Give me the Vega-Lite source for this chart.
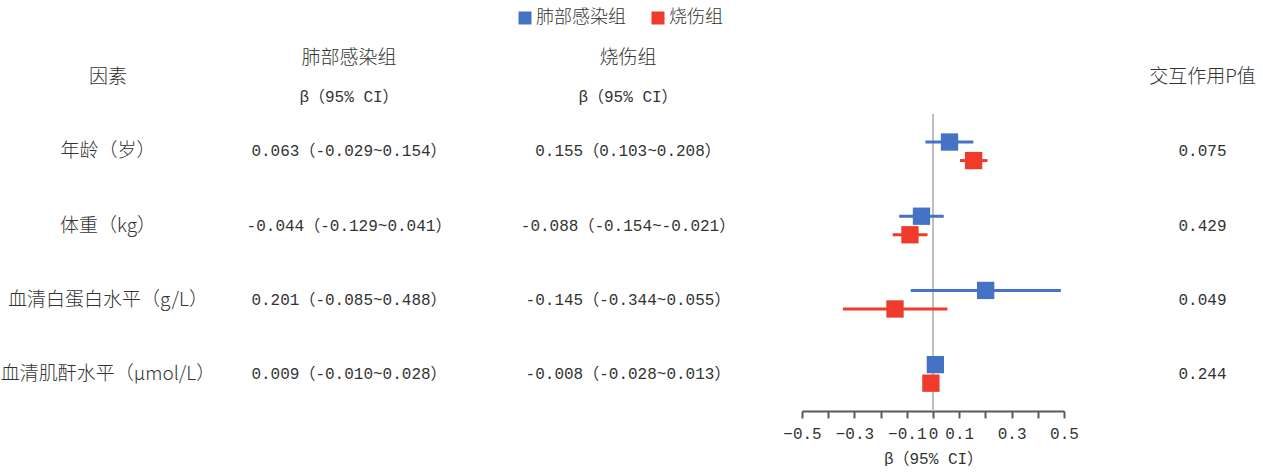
{
  "$schema": "https://vega.github.io/schema/vega-lite/v6.json",
  "padding": {"left": 0, "top": 9, "right": 0, "bottom": 0},
  "bounds": "flush",
  "spacing": 0,
  "config": {
    "view": {"stroke": null},
    "font": "Noto Sans CJK SC",
    "text": {"color": "#333333"},
    "axis": {"labelOverlap": false, "labelFlush": false}
  },
  "datasets": {
    "table": [
      {"factor": "因素", "lung": "肺部感染组", "lung2": "β（95% CI）", "burn": "烧伤组", "burn2": "β（95% CI）", "p": "交互作用P值"},
      {"factor": "年龄（岁）", "lung": "0.063（-0.029~0.154）", "burn": "0.155（0.103~0.208）", "p": "0.075"},
      {"factor": "体重（kg）", "lung": "-0.044（-0.129~0.041）", "burn": "-0.088（-0.154~-0.021）", "p": "0.429"},
      {"factor": "血清白蛋白水平（g/L）", "lung": "0.201（-0.085~0.488）", "burn": "-0.145（-0.344~0.055）", "p": "0.049"},
      {"factor": "血清肌酐水平（μmol/L）", "lung": "0.009（-0.010~0.028）", "burn": "-0.008（-0.028~0.013）", "p": "0.244"}
    ],
    "forest": [
      {"factor": "年龄（岁）", "group": "肺部感染组", "beta": 0.063, "lo": -0.029, "hi": 0.154},
      {"factor": "年龄（岁）", "group": "烧伤组", "beta": 0.155, "lo": 0.103, "hi": 0.208},
      {"factor": "体重（kg）", "group": "肺部感染组", "beta": -0.044, "lo": -0.129, "hi": 0.041},
      {"factor": "体重（kg）", "group": "烧伤组", "beta": -0.088, "lo": -0.154, "hi": -0.021},
      {"factor": "血清白蛋白水平（g/L）", "group": "肺部感染组", "beta": 0.201, "lo": -0.085, "hi": 0.488},
      {"factor": "血清白蛋白水平（g/L）", "group": "烧伤组", "beta": -0.145, "lo": -0.344, "hi": 0.055},
      {"factor": "血清肌酐水平（μmol/L）", "group": "肺部感染组", "beta": 0.009, "lo": -0.010, "hi": 0.028},
      {"factor": "血清肌酐水平（μmol/L）", "group": "烧伤组", "beta": -0.008, "lo": -0.028, "hi": 0.013}
    ]
  },
  "hconcat": [
    {
      "width": 212, "height": 371,
      "data": {"name": "table"},
      "mark": {"type": "text", "fontSize": 19, "fontWeight": 300, "baseline": "middle", "color": "#333333", "font": "Noto Sans CJK SC"},
      "encoding": {
        "y": {"field": "factor", "type": "nominal", "sort": null, "axis": null,
              "scale": {"type": "band", "domain": ["因素", "年龄（岁）", "体重（kg）", "血清白蛋白水平（g/L）", "血清肌酐水平（μmol/L）"], "paddingInner": 0, "paddingOuter": 0}},
        "text": {"field": "factor"}
      }
    },
    {
      "width": 270, "height": 371,
      "data": {"name": "table"},
      "encoding": {
        "y": {"field": "factor", "type": "nominal", "sort": null, "axis": null,
              "scale": {"type": "band", "domain": ["因素", "年龄（岁）", "体重（kg）", "血清白蛋白水平（g/L）", "血清肌酐水平（μmol/L）"], "paddingInner": 0, "paddingOuter": 0}}
      },
      "layer": [
        {
          "transform": [{"filter": "datum.factor != '因素'"}],
          "mark": {"type": "text", "fontSize": 16, "baseline": "middle", "color": "#333333", "font": "Liberation Mono, Noto Sans CJK SC"},
          "encoding": {"text": {"field": "lung"}}
        },
        {
          "transform": [{"filter": "datum.factor == '因素'"}],
          "mark": {"type": "text", "fontSize": 19, "fontWeight": 300, "baseline": "middle", "dy": -19.5, "color": "#333333", "font": "Noto Sans CJK SC"},
          "encoding": {"text": {"field": "lung"}}
        },
        {
          "transform": [{"filter": "datum.factor == '因素'"}],
          "mark": {"type": "text", "fontSize": 16, "baseline": "middle", "dy": 19.5, "color": "#333333", "font": "Liberation Mono, Noto Sans CJK SC"},
          "encoding": {"text": {"field": "lung2"}}
        }
      ]
    },
    {
      "width": 318, "height": 371,
      "data": {"name": "table"},
      "encoding": {
        "y": {"field": "factor", "type": "nominal", "sort": null, "axis": null,
              "scale": {"type": "band", "domain": ["因素", "年龄（岁）", "体重（kg）", "血清白蛋白水平（g/L）", "血清肌酐水平（μmol/L）"], "paddingInner": 0, "paddingOuter": 0}}
      },
      "layer": [
        {
          "transform": [{"filter": "datum.factor != '因素'"}],
          "mark": {"type": "text", "fontSize": 16, "baseline": "middle", "dx": -15, "color": "#333333", "font": "Liberation Mono, Noto Sans CJK SC"},
          "encoding": {"text": {"field": "burn"}}
        },
        {
          "transform": [{"filter": "datum.factor == '因素'"}],
          "mark": {"type": "text", "fontSize": 19, "fontWeight": 300, "baseline": "middle", "dx": -15, "dy": -19.5, "color": "#333333", "font": "Noto Sans CJK SC"},
          "encoding": {"text": {"field": "burn"}}
        },
        {
          "transform": [{"filter": "datum.factor == '因素'"}],
          "mark": {"type": "text", "fontSize": 16, "baseline": "middle", "dx": -15, "dy": 19.5, "color": "#333333", "font": "Liberation Mono, Noto Sans CJK SC"},
          "encoding": {"text": {"field": "burn2"}}
        }
      ]
    },
    {
      "width": 262, "height": 371,
      "data": {"name": "forest"},
      "encoding": {
        "y": {"field": "factor", "type": "nominal", "sort": null, "axis": null,
              "scale": {"type": "band", "domain": ["因素", "年龄（岁）", "体重（kg）", "血清白蛋白水平（g/L）", "血清肌酐水平（μmol/L）"], "paddingInner": 0, "paddingOuter": 0}}
      },
      "layer": [
        {
          "mark": {"type": "rect", "stroke": "#bfbfbf", "strokeWidth": 2, "fill": null},
          "encoding": {
            "x": {"datum": 0, "type": "quantitative",
                  "scale": {"domain": [-0.5, 0.5], "nice": false, "zero": false},
                  "axis": {
                    "values": [-0.5, -0.4, -0.3, -0.2, -0.1, 0, 0.1, 0.2, 0.3, 0.4, 0.5],
                    "tickCount": 20,
                    "format": ".1~f",
                    "labelExpr": "(abs(round(datum.value*10)) % 2 == 1 || abs(datum.value) < 0.001) ? datum.label : ''",
                    "grid": false, "domainColor": "#595959", "domainWidth": 2, "tickColor": "#595959", "tickWidth": 2, "tickSize": 7,
                    "labelFont": "Liberation Mono", "labelFontSize": 16, "labelColor": "#333333", "labelPadding": 7, "labelOverlap": false, "labelFlush": false,
                    "title": "β（95% CI）", "titleFont": "Liberation Mono, Noto Sans CJK SC", "titleFontSize": 16, "titleFontWeight": "normal", "titleColor": "#333333", "titlePadding": 9
                  }},
            "x2": {"datum": 0}
          }
        },
        {
          "mark": {"type": "rule", "strokeWidth": 3},
          "encoding": {
            "x": {"field": "lo", "type": "quantitative"},
            "x2": {"field": "hi"},
            "yOffset": {"field": "group", "type": "nominal", "scale": {"type": "band", "domain": ["肺部感染组", "烧伤组"], "paddingInner": 0, "paddingOuter": 1.47}},
            "color": {"field": "group", "type": "nominal",
                      "scale": {"domain": ["肺部感染组", "烧伤组"], "range": ["#4472C4", "#EE3B2B"]}}
          }
        },
        {
          "mark": {"type": "point", "shape": "square", "filled": true, "size": 300, "opacity": 1},
          "encoding": {
            "x": {"field": "beta", "type": "quantitative"},
            "yOffset": {"field": "group", "type": "nominal"},
            "color": {"field": "group", "type": "nominal",
                      "legend": {"orient": "none", "legendX": 514, "legendY": -31, "direction": "horizontal", "title": null,
                                 "symbolType": "square", "symbolSize": 169, "symbolStrokeWidth": 0, "labelFontSize": 18,
                                 "labelFont": "Noto Sans CJK SC", "labelFontWeight": 300, "labelColor": "#333333", "columnPadding": 23, "labelOffset": 2, "padding": 0}}
          }
        }
      ]
    },
    {
      "width": 201, "height": 371,
      "data": {"name": "table"},
      "encoding": {
        "y": {"field": "factor", "type": "nominal", "sort": null, "axis": null,
              "scale": {"type": "band", "domain": ["因素", "年龄（岁）", "体重（kg）", "血清白蛋白水平（g/L）", "血清肌酐水平（μmol/L）"], "paddingInner": 0, "paddingOuter": 0}}
      },
      "layer": [
        {
          "transform": [{"filter": "datum.factor != '因素'"}],
          "mark": {"type": "text", "fontSize": 16, "baseline": "middle", "dx": 38, "color": "#333333", "font": "Liberation Mono"},
          "encoding": {"text": {"field": "p"}}
        },
        {
          "transform": [{"filter": "datum.factor == '因素'"}],
          "mark": {"type": "text", "fontSize": 19, "fontWeight": 300, "baseline": "middle", "dx": 38, "color": "#333333", "font": "Noto Sans CJK SC"},
          "encoding": {"text": {"field": "p"}}
        }
      ]
    }
  ]
}
